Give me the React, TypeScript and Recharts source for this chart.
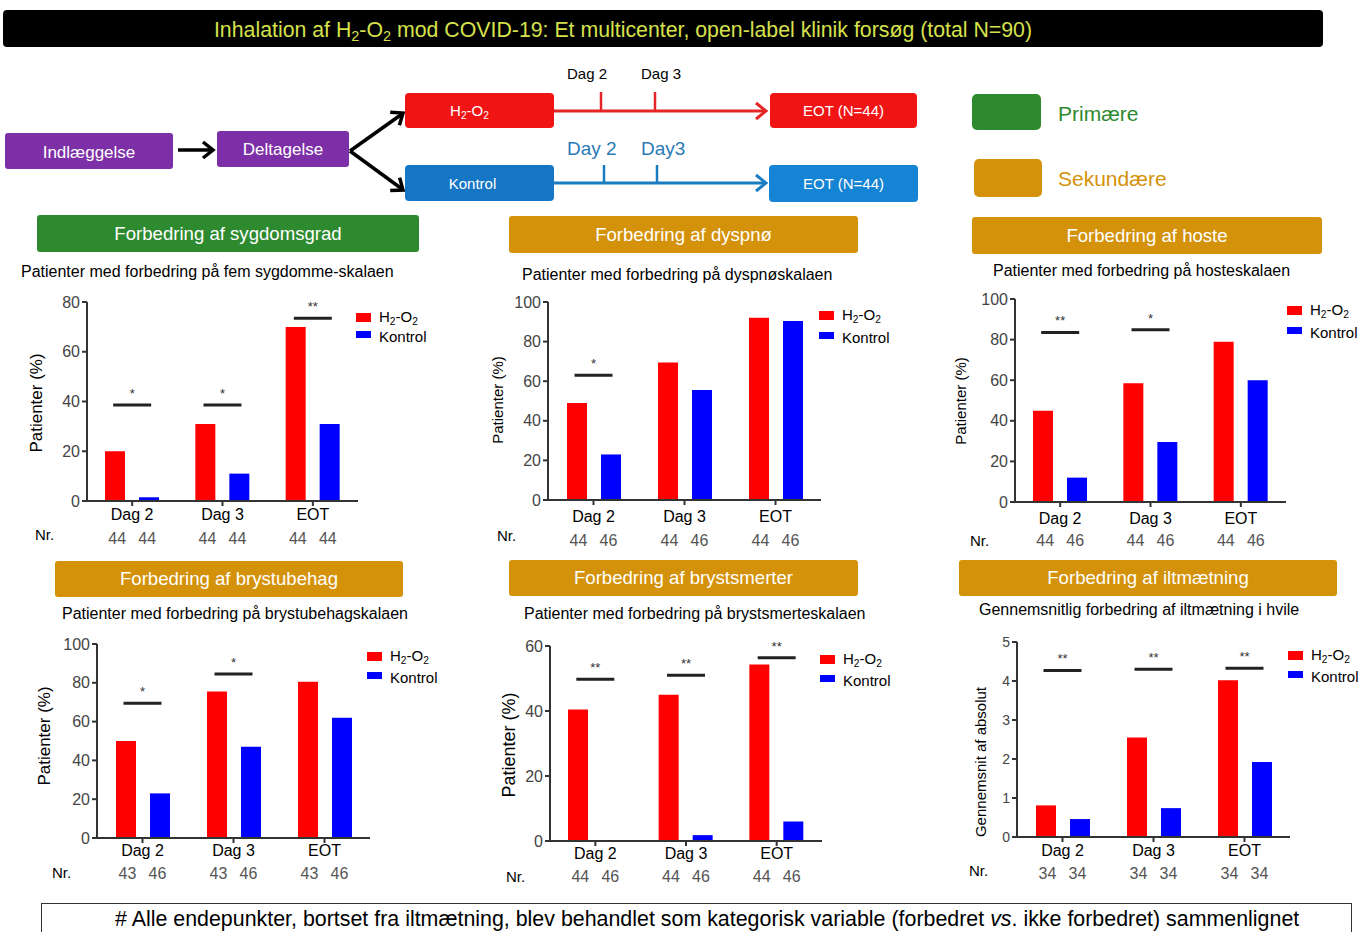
import React from "react";
import { BarChart, Bar, XAxis, YAxis, ReferenceDot } from "recharts";

const FONT = '"Liberation Sans", Arial, Helvetica, sans-serif';

const categories = ["Dag 2", "Dag 3", "EOT"];
const seriesNames = ["H2-O2", "Kontrol"];

// Forbedring af sygdomsgrad
const severityH2O2 = [20, 31, 70];
const severityKontrol = [1.5, 11, 31];
const severityNH2O2 = [44, 44, 44];
const severityNKontrol = [44, 44, 44];
const severitySig = [38.6, 38.6, 73.5];
const severityStars = ["*", "*", "**"];

// Forbedring af dyspnø
const dyspneaH2O2 = [49, 69.5, 92];
const dyspneaKontrol = [23, 55.6, 90.4];
const dyspneaNH2O2 = [44, 44, 44];
const dyspneaNKontrol = [46, 46, 46];
const dyspneaSig = [63, null, null];
const dyspneaStars = ["*", "", ""];

// Forbedring af hoste
const coughH2O2 = [45, 58.5, 79];
const coughKontrol = [12, 29.5, 60];
const coughNH2O2 = [44, 44, 44];
const coughNKontrol = [46, 46, 46];
const coughSig = [83.5, 84.8, null];
const coughStars = ["**", "*", ""];

// Forbedring af brystubehag
const discomfortH2O2 = [50, 75.5, 80.5];
const discomfortKontrol = [23, 47, 62];
const discomfortNH2O2 = [43, 43, 43];
const discomfortNKontrol = [46, 46, 46];
const discomfortSig = [69.5, 84.5, null];
const discomfortStars = ["*", "*", ""];

// Forbedring af brystsmerter
const painH2O2 = [40.5, 45, 54.3];
const painKontrol = [0, 1.8, 6];
const painNH2O2 = [44, 44, 44];
const painNKontrol = [46, 46, 46];
const painSig = [49.8, 51, 56.4];
const painStars = ["**", "**", "**"];

// Forbedring af iltmætning
const oxygenH2O2 = [0.81, 2.55, 4.02];
const oxygenKontrol = [0.46, 0.74, 1.92];
const oxygenNH2O2 = [34, 34, 34];
const oxygenNKontrol = [34, 34, 34];
const oxygenSig = [4.27, 4.3, 4.33];
const oxygenStars = ["**", "**", "**"];

const ticks80 = [0, 20, 40, 60, 80];
const ticks100 = [0, 20, 40, 60, 80, 100];
const ticks60 = [0, 20, 40, 60];
const ticks5 = [0, 1, 2, 3, 4, 5];

const RED = "#ff0000";
const BLUE = "#0000ff";
const GREEN = "#2e8a2f";
const ORANGE = "#d4920a";

const subStyle: React.CSSProperties = { fontSize: "0.68em", verticalAlign: "-0.3em", lineHeight: 0 };
const H2O2 = () => (
  <span>
    H<sub style={subStyle}>2</sub>-O<sub style={subStyle}>2</sub>
  </span>
);

function Box({ left, top, w, h, bg, color = "#fff", size = 15, radius = 4, children, style }: any) {
  return (
    <div
      style={{
        position: "absolute",
        left,
        top,
        width: w,
        height: h,
        background: bg,
        color,
        fontSize: size,
        borderRadius: radius,
        display: "flex",
        alignItems: "center",
        justifyContent: "center",
        whiteSpace: "nowrap",
        ...style,
      }}
    >
      {children}
    </div>
  );
}

function Text({ left, top, size = 15, color = "#000", children, style }: any) {
  return (
    <div style={{ position: "absolute", left, top, fontSize: size, color, whiteSpace: "nowrap", lineHeight: 1, ...style }}>
      {children}
    </div>
  );
}

function VLabel({ cx, cy, size, children }: any) {
  return (
    <div
      style={{
        position: "absolute",
        left: cx - 120,
        top: cy - 12,
        width: 240,
        height: 24,
        lineHeight: "24px",
        textAlign: "center",
        fontSize: size,
        color: "#000",
        transform: "rotate(-90deg)",
        whiteSpace: "nowrap",
      }}
    >
      {children}
    </div>
  );
}

function SigMark(props: any) {
  const { cx, cy, mark } = props;
  if (cx == null || cy == null) return null;
  return (
    <g>
      <line x1={cx - 19} x2={cx + 19} y1={cy} y2={cy} stroke="#222" strokeWidth={3} />
      <text x={cx} y={cy - 7} textAnchor="middle" fontSize={13} fill="#333" fontFamily={FONT}>
        {mark}
      </text>
    </g>
  );
}

function CatTick(props: any) {
  const { x, y, payload, nH, nK, labelDy, numDy } = props;
  const i = categories.indexOf(payload.value);
  return (
    <g>
      <text x={x} y={y + labelDy} textAnchor="middle" dominantBaseline="central" fontSize={16} fill="#000" fontFamily={FONT}>
        {payload.value}
      </text>
      <text x={x - 15} y={y + numDy} textAnchor="middle" dominantBaseline="central" fontSize={16} fill="#555" fontFamily={FONT}>
        {nH[i]}
      </text>
      <text x={x + 15} y={y + numDy} textAnchor="middle" dominantBaseline="central" fontSize={16} fill="#555" fontFamily={FONT}>
        {nK[i]}
      </text>
    </g>
  );
}

function Panel({ axisX, yTop, yBottom, xEnd, max, ticks, h2o2, kontrol, nH, nK, sig, stars, labelDy, numDy, tickFont = 16 }: any) {
  const YW = 50;
  const MT = 12;
  const XH = 60;
  const W = YW + (xEnd - axisX) + 4;
  const H = MT + (yBottom - yTop) + XH;
  const data = categories.map((c, i) => ({ cat: c, h: h2o2[i], k: kontrol[i] }));
  return (
    <div style={{ position: "absolute", left: axisX - YW, top: yTop - MT }}>
      <BarChart width={W} height={H} data={data} margin={{ top: MT, right: 4, left: 0, bottom: 0 }} barSize={20} barGap={14}>
        <XAxis
          dataKey="cat"
          height={XH}
          interval={0}
          axisLine={{ stroke: "#333", strokeWidth: 2 }}
          tickLine={{ stroke: "#333", strokeWidth: 2 }}
          tickSize={5}
          tickMargin={0}
          tick={<CatTick nH={nH} nK={nK} labelDy={labelDy} numDy={numDy} />}
        />
        <YAxis
          width={YW}
          domain={[0, max]}
          ticks={ticks}
          interval={0}
          axisLine={{ stroke: "#333", strokeWidth: 2 }}
          tickLine={{ stroke: "#333", strokeWidth: 2 }}
          tickSize={5}
          tick={{ fontSize: tickFont, fill: "#444", fontFamily: FONT }}
        />
        <Bar dataKey="h" name={seriesNames[0]} fill={RED} isAnimationActive={false} />
        <Bar dataKey="k" name={seriesNames[1]} fill={BLUE} isAnimationActive={false} />
        {sig.map((v: number | null, i: number) =>
          v == null ? null : (
            <ReferenceDot
              key={i}
              x={categories[i]}
              y={v}
              r={10}
              isFront
              shape={(p: any) => <SigMark {...p} mark={stars[i]} />}
            />
          )
        )}
      </BarChart>
    </div>
  );
}

function Legend({ left, top, gap = 23, size = 15 }: any) {
  return (
    <>
      <div style={{ position: "absolute", left, top, width: 15, height: 9, background: RED }} />
      <Text left={left + 23} top={top - 4} size={size}>
        <H2O2 />
      </Text>
      <div style={{ position: "absolute", left, top: top + gap - 2, width: 15, height: 7, background: BLUE }} />
      <Text left={left + 23} top={top + gap - 4} size={size}>
        {seriesNames[1]}
      </Text>
    </>
  );
}

function Header({ left, top, w, h = 37, bg = ORANGE, children }: any) {
  return (
    <Box left={left} top={top} w={w} h={h} bg={bg} size={18.6} radius={3}>
      {children}
    </Box>
  );
}

function Chevron({ x, y, angle, color, width = 3.5 }: any) {
  return (
    <g transform={`translate(${x},${y}) rotate(${angle})`}>
      <polyline points="-10,-8 0,0 -10,8" fill="none" stroke={color} strokeWidth={width} strokeLinejoin="miter" />
    </g>
  );
}

export default function App() {
  return (
    <div
      style={{
        position: "absolute",
        left: 0,
        top: 0,
        width: 1358,
        height: 932,
        background: "#fff",
        overflow: "hidden",
        fontFamily: FONT,
      }}
    >
      {/* title */}
      <Box left={3} top={10} w={1320} h={37} bg="#000" color="#d6e24c" size={21.3} radius={4} style={{ paddingTop: 4, paddingRight: 80, boxSizing: "border-box" }}>
        <span>
          Inhalation af <H2O2 /> mod COVID-19: Et multicenter, open-label klinik forsøg (total N=90)
        </span>
      </Box>

      {/* flow diagram */}
      <svg width={1358} height={932} style={{ position: "absolute", left: 0, top: 0 }}>
        <line x1={178} y1={150} x2={212} y2={150} stroke="#000" strokeWidth={3.5} />
        <Chevron x={213} y={150} angle={0} color="#000" />
        <line x1={350} y1={151} x2={402} y2={114} stroke="#000" strokeWidth={3.5} />
        <Chevron x={403} y={113} angle={-35} color="#000" />
        <line x1={350} y1={151} x2={402} y2={189} stroke="#000" strokeWidth={3.5} />
        <Chevron x={403} y={190} angle={36} color="#000" />

        <line x1={554} y1={111} x2={764} y2={111} stroke="#e52525" strokeWidth={3} />
        <Chevron x={766} y={111} angle={0} color="#e52525" width={3} />
        <line x1={601} y1={111} x2={601} y2={92} stroke="#e52525" strokeWidth={2.5} />
        <line x1={655} y1={111} x2={655} y2={92} stroke="#e52525" strokeWidth={2.5} />

        <line x1={554} y1={183} x2={764} y2={183} stroke="#1a7cc0" strokeWidth={3} />
        <Chevron x={766} y={183} angle={0} color="#1a7cc0" width={3} />
        <line x1={604} y1={183} x2={604} y2={165} stroke="#1a7cc0" strokeWidth={2.5} />
        <line x1={657} y1={183} x2={657} y2={165} stroke="#1a7cc0" strokeWidth={2.5} />
      </svg>

      <Box left={5} top={133} w={168} h={36} bg="#7d2fa7" size={17} radius={3} style={{ paddingTop: 3, boxSizing: "border-box" }}>
        Indlæggelse
      </Box>
      <Box left={217} top={131} w={132} h={36} bg="#7d2fa7" size={17} radius={3} style={{ paddingTop: 2, boxSizing: "border-box" }}>
        Deltagelse
      </Box>
      <Box left={405} top={93} w={149} h={35} bg="#f01414" size={15} radius={4} style={{ paddingRight: 20, boxSizing: "border-box" }}>
        <H2O2 />
      </Box>
      <Box left={770} top={93} w={147} h={35} bg="#f01414" size={15} radius={4}>
        EOT (N=44)
      </Box>
      <Box left={405} top={165} w={149} h={36} bg="#1676c6" size={15} radius={4} style={{ paddingRight: 14, boxSizing: "border-box" }}>
        Kontrol
      </Box>
      <Box left={769} top={165} w={149} h={37} bg="#1584d4" size={15} radius={4}>
        EOT (N=44)
      </Box>
      <Text left={567} top={66} size={15}>Dag 2</Text>
      <Text left={641} top={66} size={15}>Dag 3</Text>
      <Text left={567} top={139} size={19} color="#2a7ab6">Day 2</Text>
      <Text left={641} top={139} size={19} color="#2a7ab6">Day3</Text>

      {/* endpoint key */}
      <Box left={972} top={94} w={69} h={36} bg={GREEN} radius={5} />
      <Text left={1058} top={103} size={21} color={GREEN}>Primære</Text>
      <Box left={974} top={159} w={68} h={38} bg={ORANGE} radius={5} />
      <Text left={1058} top={168} size={21} color={ORANGE}>Sekundære</Text>

      {/* headers */}
      <Header left={37} top={215} w={382} bg={GREEN}>Forbedring af sygdomsgrad</Header>
      <Header left={509} top={216} w={349}>Forbedring af dyspnø</Header>
      <Header left={972} top={217} w={350}>Forbedring af hoste</Header>
      <Header left={55} top={561} w={348} h={36}>Forbedring af brystubehag</Header>
      <Header left={509} top={560} w={349} h={36}>Forbedring af brystsmerter</Header>
      <Header left={959} top={560} w={378} h={36}>Forbedring af iltmætning</Header>

      {/* subtitles */}
      <Text left={21} top={264} size={16}>Patienter med forbedring på fem sygdomme-skalaen</Text>
      <Text left={522} top={267} size={16}>Patienter med forbedring på dyspnøskalaen</Text>
      <Text left={993} top={263} size={16}>Patienter med forbedring på hosteskalaen</Text>
      <Text left={62} top={606} size={16}>Patienter med forbedring på brystubehagskalaen</Text>
      <Text left={524} top={606} size={16}>Patienter med forbedring på brystsmerteskalaen</Text>
      <Text left={979} top={602} size={16}>Gennemsnitlig forbedring af iltmætning i hvile</Text>

      {/* charts */}
      <Panel axisX={87} yTop={302} yBottom={501} xEnd={358} max={80} ticks={ticks80}
        h2o2={severityH2O2} kontrol={severityKontrol} nH={severityNH2O2} nK={severityNKontrol}
        sig={severitySig} stars={severityStars} labelDy={8} numDy={32} />
      <Panel axisX={548} yTop={302} yBottom={500} xEnd={821} max={100} ticks={ticks100}
        h2o2={dyspneaH2O2} kontrol={dyspneaKontrol} nH={dyspneaNH2O2} nK={dyspneaNKontrol}
        sig={dyspneaSig} stars={dyspneaStars} labelDy={11} numDy={35} />
      <Panel axisX={1015} yTop={299} yBottom={502} xEnd={1286} max={100} ticks={ticks100}
        h2o2={coughH2O2} kontrol={coughKontrol} nH={coughNH2O2} nK={coughNKontrol}
        sig={coughSig} stars={coughStars} labelDy={11} numDy={33} />
      <Panel axisX={97} yTop={644} yBottom={838} xEnd={370} max={100} ticks={ticks100}
        h2o2={discomfortH2O2} kontrol={discomfortKontrol} nH={discomfortNH2O2} nK={discomfortNKontrol}
        sig={discomfortSig} stars={discomfortStars} labelDy={7} numDy={30} />
      <Panel axisX={550} yTop={646} yBottom={841} xEnd={822} max={60} ticks={ticks60}
        h2o2={painH2O2} kontrol={painKontrol} nH={painNH2O2} nK={painNKontrol}
        sig={painSig} stars={painStars} labelDy={7} numDy={30} />
      <Panel axisX={1017} yTop={642} yBottom={837} xEnd={1290} max={5} ticks={ticks5} tickFont={14}
        h2o2={oxygenH2O2} kontrol={oxygenKontrol} nH={oxygenNH2O2} nK={oxygenNKontrol}
        sig={oxygenSig} stars={oxygenStars} labelDy={8} numDy={31} />

      {/* y labels */}
      <VLabel cx={37} cy={403} size={17}>Patienter (%)</VLabel>
      <VLabel cx={498} cy={400} size={15}>Patienter (%)</VLabel>
      <VLabel cx={961} cy={401} size={15}>Patienter (%)</VLabel>
      <VLabel cx={45} cy={736} size={17}>Patienter (%)</VLabel>
      <VLabel cx={509} cy={745} size={18}>Patienter (%)</VLabel>
      <VLabel cx={981} cy={762} size={15}>Gennemsnit af absolut</VLabel>

      {/* Nr. labels */}
      <Text left={35} top={527} size={15}>Nr.</Text>
      <Text left={497} top={528} size={15}>Nr.</Text>
      <Text left={970} top={533} size={15}>Nr.</Text>
      <Text left={52} top={865} size={15}>Nr.</Text>
      <Text left={506} top={869} size={15}>Nr.</Text>
      <Text left={969} top={863} size={15}>Nr.</Text>

      {/* legends */}
      <Legend left={356} top={313} gap={20} />
      <Legend left={819} top={311} gap={23} />
      <Legend left={1287} top={306} gap={23} />
      <Legend left={367} top={652} gap={22} />
      <Legend left={820} top={655} gap={22} />
      <Legend left={1288} top={651} gap={22} />

      {/* footnote */}
      <div
        style={{
          position: "absolute",
          left: 41,
          top: 903,
          width: 1311,
          height: 40,
          border: "1.5px solid #333",
          boxSizing: "border-box",
        }}
      />
      <Text left={115} top={909} size={21.4}>
        # Alle endepunkter, bortset fra iltmætning, blev behandlet som kategorisk variable (forbedret <i>vs</i>. ikke forbedret) sammenlignet
      </Text>
    </div>
  );
}
